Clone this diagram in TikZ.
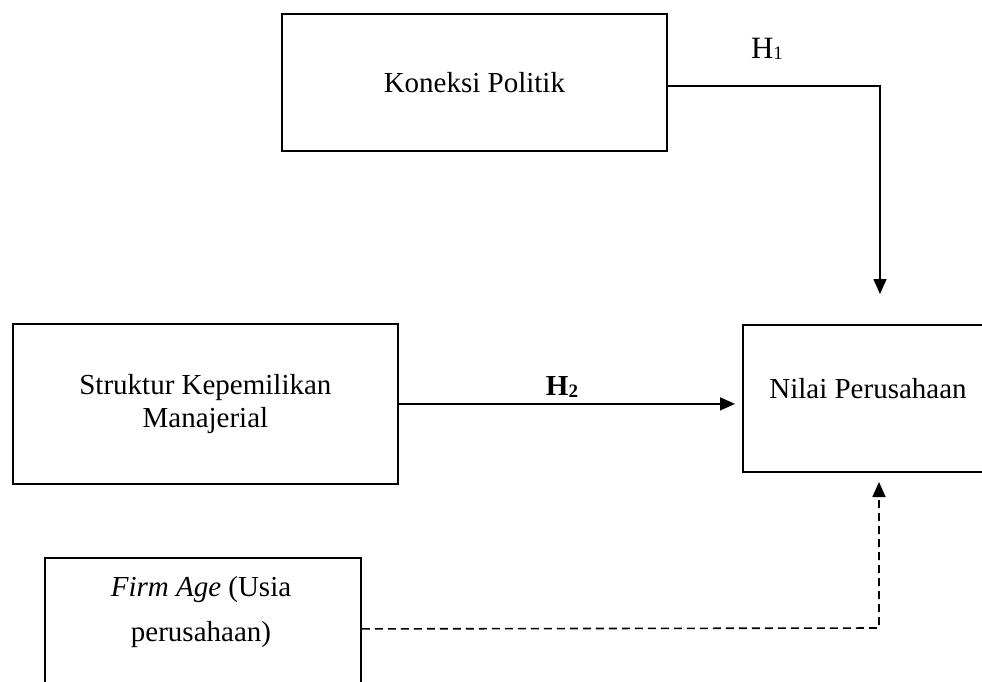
\documentclass[tikz,border=0pt]{standalone}
\usepackage{fontspec}
\setmainfont{Liberation Serif}
\usetikzlibrary{arrows.meta}
\newcommand{\hsub}[1]{\raisebox{-1.5pt}{\fontsize{19}{19}\selectfont #1}}
\begin{document}
\begin{tikzpicture}[x=1pt,y=-1pt,
  box/.style={draw=black,line width=1.8pt,rectangle,inner sep=0pt,anchor=north west},
  txt/.style={font=\fontsize{29}{33}\selectfont,align=center,inner sep=0pt},
  conn/.style={line width=1.6pt,-{Triangle[length=15pt,width=13pt]}},
  dashconn/.style={conn,dash pattern=on 8pt off 5pt}]
\useasboundingbox (0,0) rectangle (982,681);
\clip (0,0) rectangle (982,681);
% boxes
\node[box,minimum width=385pt,minimum height=137pt,txt] (kon) at (281,13) {Koneksi Politik};
\node[box,minimum width=385pt,minimum height=160pt,txt] (str) at (12,323) {Struktur Kepemilikan\\Manajerial};
\node[box,minimum width=260pt,minimum height=147pt] (nil) at (742,324) {};
\node[txt] (niltxt) at (868,389) {Nilai Perusahaan};
\node[box,minimum width=316pt,minimum height=142pt] (firm) at (44,557) {};
\node[txt,font=\fontsize{29}{45}\selectfont] (firmtxt) at (201,612) {\textit{Firm Age} (Usia\\perusahaan)};
% labels
\node[txt,font=\fontsize{31}{33}\selectfont] (h1) at (767,49) {H\hsub{1}};
\node[txt] (h2) at (562,387) {\textbf{H\hsub{\bfseries 2}}};
% connector coordinates
\coordinate (h1corner) at (880,86);
\coordinate (h1end) at (880,294);
\coordinate (fcorner) at (879,628);
\coordinate (fend) at (879,482);
% connectors
\draw[conn] (kon.east |- h1corner) -- (h1corner) -- (h1end);
\draw[conn,shorten >=7pt] (str.east) -- (str.east -| nil.west);
\draw[dashconn] (firm.east) -- (fcorner) -- (fend);
\end{tikzpicture}
\end{document}
